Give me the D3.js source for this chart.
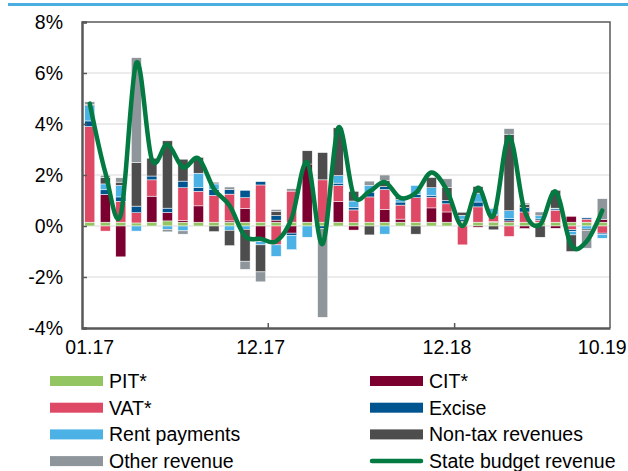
<!DOCTYPE html>
<html>
<head>
<meta charset="utf-8">
<script src="https://cdn.jsdelivr.net/npm/d3@7"></script>
<style>
body { margin: 0; background: #fff; }
svg { display: block; font-family: 'Liberation Sans', Arial, sans-serif; }
</style>
</head>
<body>
<div id="chart"></div>
<script>
// months 01.17 .. 10.19, only some get a label
var months = [];
for (var yr = 17; yr <= 19; yr++) {
	for (var m = 1; m <= 12; m++) {
		if (yr == 19 && m > 10) break;
		months.push((m < 10 ? '0' + m : '' + m) + '.' + yr);
	}
}
var shownLabels = ['01.17', '12.17', '12.18', '10.19'];

var seriesNames = ['PIT*', 'CIT*', 'VAT*', 'Excise', 'Rent payments', 'Non-tax revenues', 'Other revenue'];
var seriesColors = ['#93c562', '#7b0030', '#de4a66', '#00548f', '#4cb1e5', '#4d4d4d', '#8e969c'];

var pit = [0.15, 0.15, 0.15, 0.12, 0.15, 0.2, 0.15, 0.15, 0.15, 0.15, 0.15, 0.15, 0.15, 0.15, 0.15, 0.15, 0.15,
	0.13, 0.15, 0.15, 0.15, 0.15, 0.15, 0.15, 0.15, 0.15, 0.15, 0.15, 0.15, 0.15, 0.15, 0.15, 0.15, 0.15];
var cit = [0, 1.09, -1.21, 0, 1.02, 0.33, 0.06, 0.64, 0, 0.05, 0.54, -0.61, 0.08, -0.28, 2.28, 0, 0.82,
	-0.16, 0, 0.5, 0.12, 0, 0.56, 0.4, 0.04, -0.05, 0.02, 0.05, -0.1, 0, -0.09, 0.23, 0, 0.1];
var vat = [3.75, -0.2, 0.82, 0.4, 0.64, 0, 1.29, 0.57, 1.05, 1.05, 0.42, 1.46, -0.74, 1.22, 0, 1.66, 0.62,
	0.5, 0.99, 0.78, 0.55, 0.96, 0.42, 0.32, -0.74, 0.6, 0.24, -0.41, 0.4, 0.08, 0.47, -0.15, 0.12, -0.28];
var excise = [0.22, 0.18, 0.17, 0.26, 0.15, 0.17, 0.26, 0.16, 0.23, 0.18, 0.29, 0.13, 0.18, -0.09, 0, -0.1, 0.09,
	0.1, 0.19, 0.12, 0.12, 0.13, 0.06, 0.13, 0.08, 0.19, 0.05, 0.1, 0.17, 0.05, 0.05, -0.07, 0.05, -0.05];
var rent = [0.6, 0.23, 0.45, -0.2, 0, -0.13, -0.19, 0.55, 0.22, -0.17, -0.13, -0.13, -0.45, -0.56, -0.44, 0, 0.3,
	0.25, 0.26, -0.32, 0.1, 0.35, 0.31, 0, 0.15, 0.35, 0.23, 0.3, 0, 0.12, 0.03, -0.13, -0.12, -0.15];
var nonTax = [0.05, 0.26, 0.13, 1.72, 0.7, 2.64, 0.86, 0.62, -0.22, -0.6, -1.25, -1.06, 0.15, 0, 0.52, 1.07, 1.87,
	0.38, -0.35, 0.23, 0.1, -0.32, 0.4, 0.52, 0.12, 0.26, -0.15, 3.0, 0.13, -0.44, 0.7, -0.65, -0.05, 0];
var other = [0.1, 0.08, 0.17, 4.1, 0, -0.1, -0.13, 0, 0.07, 0.1, -0.32, -0.39, 0.09, 0.09, 0, -3.48, 0,
	0, 0.17, 0.22, 0, 0, 0, 0.33, 0, 0, 0.02, 0.22, 0.05, 0.15, 0, 0, -0.7, 0.82];

var budget = [4.8, 2.1, 0.45, 6.4, 2.6, 3.2, 2.3, 2.65, 1.45, 0.8, -0.4, -0.5, -0.6, 0.3, 2.5, -0.7, 3.85,
	1.2, 1.35, 1.72, 1.1, 1.3, 2.1, 1.4, 0.0, 1.5, 0.4, 3.5, 0.6, 0.05, 1.35, -0.75, -0.6, 0.6];

var yTicks = [-4, -2, 0, 2, 4, 6, 8];

var width = 628, height = 471;
var plotLeft = 82, plotRight = 610, plotTop = 22, plotBottom = 328;

var svg = d3.select('#chart')
	.append('svg')
	.attr('width', width)
	.attr('height', height);

// the blue rule across the top
svg.append('line')
	.attr('x1', 8).attr('x2', width)
	.attr('y1', 4.5).attr('y2', 4.5)
	.attr('stroke', '#4baee0')
	.attr('stroke-width', 3);

var x = d3.scaleBand()
	.domain(months)
	.range([plotLeft, plotRight])
	.paddingInner(0.35)
	.paddingOuter(0.175);

var y = d3.scaleLinear()
	.domain([-4, 8])
	.range([plotBottom, plotTop]);

// gridlines
svg.append('g')
	.selectAll('line')
	.data(yTicks.filter(t => t > -4 && t < 8))
	.enter()
	.append('line')
	.attr('x1', plotLeft).attr('x2', plotRight)
	.attr('y1', d => y(d)).attr('y2', d => y(d))
	.attr('stroke', '#d9d9d9')
	.attr('stroke-width', 1);

var table = months.map(function(mo, i) {
	return {
		month: mo,
		'PIT*': pit[i],
		'CIT*': cit[i],
		'VAT*': vat[i],
		'Excise': excise[i],
		'Rent payments': rent[i],
		'Non-tax revenues': nonTax[i],
		'Other revenue': other[i]
	};
});

var stacked = d3.stack()
	.keys(seriesNames)
	.offset(d3.stackOffsetDiverging)(table);

svg.append('g')
	.selectAll('g')
	.data(stacked)
	.enter()
	.append('g')
	.attr('fill', (d, i) => seriesColors[i])
	.selectAll('rect')
	.data(d => d)
	.enter()
	.append('rect')
	.attr('x', d => x(d.data.month))
	.attr('width', x.bandwidth())
	.attr('y', d => y(Math.max(d[0], d[1])))
	.attr('height', d => Math.abs(y(d[0]) - y(d[1])))
	.attr('stroke', '#fff')
	.attr('stroke-width', 0.5);

// frame
svg.append('path')
	.attr('d', 'M' + plotLeft + ',' + plotTop + 'H' + plotRight + 'V' + plotBottom)
	.attr('fill', 'none')
	.attr('stroke', '#595959')
	.attr('stroke-width', 1.5);

var yAxis = svg.append('g')
	.attr('transform', 'translate(' + plotLeft + ',0)')
	.call(d3.axisLeft(y).tickValues(yTicks).tickSize(-5).tickPadding(19).tickFormat(d => d + '%'));
yAxis.select('.domain').attr('stroke', '#595959').attr('stroke-width', 2.5);
yAxis.selectAll('.tick line').attr('stroke', '#595959').attr('stroke-width', 1.5);
yAxis.selectAll('.tick text')
	.attr('fill', '#000')
	.style('font-size', '19.5px')
	.style('font-family', "'Liberation Sans', Arial, sans-serif");

var xAxis = svg.append('g')
	.attr('transform', 'translate(0,' + plotBottom + ')')
	.call(d3.axisBottom(x).tickValues(shownLabels).tickSize(0).tickPadding(12));
xAxis.select('.domain').attr('stroke', '#595959').attr('stroke-width', 2.5);
xAxis.selectAll('.tick text')
	.attr('fill', '#000')
	.style('font-size', '19.5px')
	.style('font-family', "'Liberation Sans', Arial, sans-serif");

// small inner ticks after the middle labels
svg.append('g')
	.selectAll('line')
	.data(['12.17', '12.18'])
	.enter()
	.append('line')
	.attr('x1', d => x(d) + x.step() * 0.82)
	.attr('x2', d => x(d) + x.step() * 0.82)
	.attr('y1', plotBottom)
	.attr('y2', plotBottom - 5)
	.attr('stroke', '#595959')
	.attr('stroke-width', 1.5);

var line = d3.line()
	.x((d, i) => x(months[i]) + x.bandwidth() / 2)
	.y(d => y(d))
	.curve(d3.curveCardinal);

svg.append('path')
	.datum(budget)
	.attr('d', line)
	.attr('fill', 'none')
	.attr('stroke', '#037a41')
	.attr('stroke-width', 4.5)
	.attr('stroke-linejoin', 'round')
	.attr('stroke-linecap', 'round');

// legend, two columns
var legendItems = seriesNames.concat(['State budget revenue']);
var legendColors = seriesColors.concat(['#037a41']);

var legend = svg.append('g')
	.selectAll('g')
	.data(legendItems)
	.enter()
	.append('g')
	.attr('transform', function(d, i) {
		var col = i % 2;
		var row = Math.floor(i / 2);
		return 'translate(' + (col ? 370 : 50) + ',' + (381 + row * 26.7) + ')';
	});

legend.each(function(d, i) {
	var g = d3.select(this);
	if (i == legendItems.length - 1) {
		g.append('line')
			.attr('x1', 2).attr('x2', 51)
			.attr('y1', 0).attr('y2', 0)
			.attr('stroke', legendColors[i])
			.attr('stroke-width', 4.5)
			.attr('stroke-linecap', 'round');
	} else {
		g.append('rect')
			.attr('x', 0).attr('y', -5)
			.attr('width', 53).attr('height', 10)
			.attr('fill', legendColors[i]);
	}
	g.append('text')
		.attr('x', 59)
		.attr('y', 0)
		.attr('dy', '0.36em')
		.style('font-size', '19.5px')
		.text(d);
});
</script>
</body>
</html>
